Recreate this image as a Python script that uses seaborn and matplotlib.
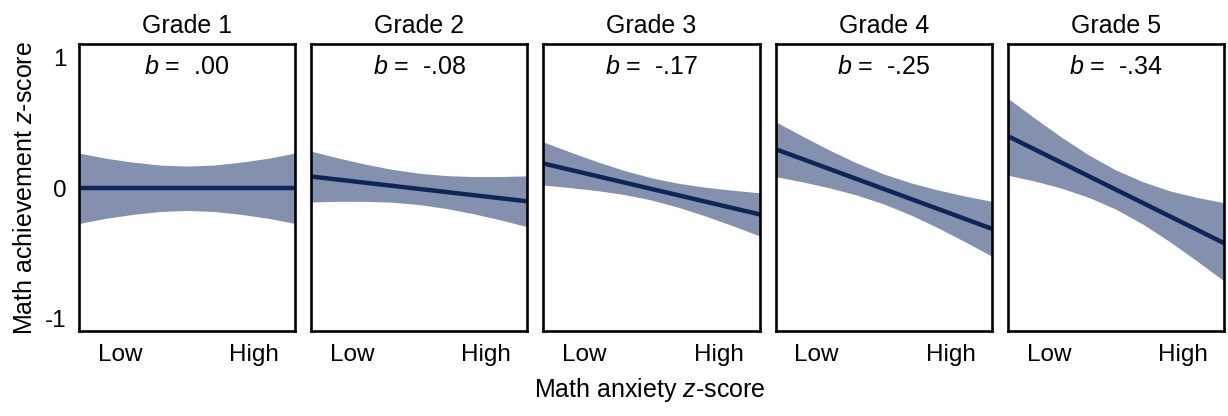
import numpy as np
import pandas as pd
import matplotlib
matplotlib.use("Agg")
import matplotlib.pyplot as plt
import seaborn as sns

# data (x = math anxiety, -1 = low, 1 = high)
grades = ["Grade 1", "Grade 2", "Grade 3", "Grade 4", "Grade 5"]
slopes = [".00", "-.08", "-.17", "-.25", "-.34"]

line_x = [-1, 1]
line_y = {
    "Grade 1": [0.00, 0.00],
    "Grade 2": [0.09, -0.10],
    "Grade 3": [0.19, -0.20],
    "Grade 4": [0.30, -0.31],
    "Grade 5": [0.40, -0.42],
}

band_x = [-1, -0.75, -0.5, -0.25, 0, 0.25, 0.5, 0.75, 1]
band_hi = {
    "Grade 1": [0.27, 0.23, 0.20, 0.178, 0.17, 0.178, 0.20, 0.23, 0.27],
    "Grade 2": [0.285, 0.232, 0.185, 0.145, 0.115, 0.097, 0.09, 0.09, 0.095],
    "Grade 3": [0.355, 0.277, 0.203, 0.136, 0.08, 0.038, 0.008, -0.015, -0.035],
    "Grade 4": [0.51, 0.399, 0.292, 0.194, 0.11, 0.042, -0.013, -0.059, -0.10],
    "Grade 5": [0.69, 0.537, 0.39, 0.255, 0.14, 0.05, -0.02, -0.07, -0.11],
}
band_lo = {
    "Grade 1": [-0.27, -0.23, -0.20, -0.178, -0.17, -0.178, -0.20, -0.23, -0.27],
    "Grade 2": [-0.105, -0.10, -0.10, -0.107, -0.125, -0.155, -0.195, -0.242, -0.295],
    "Grade 3": [0.025, 0.005, -0.018, -0.048, -0.09, -0.146, -0.213, -0.287, -0.365],
    "Grade 4": [0.09, 0.049, 0.003, -0.052, -0.12, -0.204, -0.302, -0.409, -0.52],
    "Grade 5": [0.10, 0.055, 0.0, -0.07, -0.16, -0.275, -0.41, -0.557, -0.71],
}

x_ticks = [-0.62, 0.62]
x_ticklabels = ["Low", "High"]
y_ticks = [-1, 0, 1]
y_ticklabels = ["-1", "0", "1"]

sns.set_style("white")
plt.rcParams["font.family"] = ["Liberation Sans", "DejaVu Sans"]
plt.rcParams["mathtext.fontset"] = "custom"
plt.rcParams["mathtext.rm"] = "Liberation Sans"
plt.rcParams["mathtext.it"] = "Liberation Sans:italic"
plt.rcParams["text.color"] = "black"
plt.rcParams["axes.labelcolor"] = "black"
plt.rcParams["xtick.color"] = "black"
plt.rcParams["ytick.color"] = "black"

line_color = "#0f2557"
band_color = "#8491ae"

rows = []
for g in grades:
    for xv, yv in zip(line_x, line_y[g]):
        rows.append({"grade": g, "anxiety": xv, "achievement": yv})
df = pd.DataFrame(rows)

fig, axes = plt.subplots(1, 5, figsize=(12.28, 4.16), dpi=100, sharey=True)
fig.subplots_adjust(left=0.0643, right=0.9967, top=0.894, bottom=0.204, wspace=0.074)

for i, (ax, g) in enumerate(zip(axes, grades)):
    ax.fill_between(band_x, band_lo[g], band_hi[g], color=band_color, linewidth=0)
    sns.lineplot(data=df[df["grade"] == g], x="anxiety", y="achievement",
                 color=line_color, linewidth=3.2, ax=ax)
    ax.set_xlim(-1, 1)
    ax.set_ylim(-1.095, 1.105)
    ax.set_xticks(x_ticks)
    ax.set_xticklabels(x_ticklabels)
    ax.set_yticks(y_ticks)
    ax.set_yticklabels(y_ticklabels)
    ax.tick_params(axis="both", length=0, labelsize=17.5, pad=9)
    ax.set_xlabel("")
    ax.set_ylabel("")
    ax.set_title(g, fontsize=18, pad=8)
    ax.text(0.5, 0.92, "$b$ =  " + slopes[i], transform=ax.transAxes,
            ha="center", va="center", fontsize=18)
    for s in ax.spines.values():
        s.set_visible(True)
        s.set_color("black")
        s.set_linewidth(1.9)

axes[0].set_ylabel("Math achievement $z$-score", fontsize=18, labelpad=6)
fig.text(650 / 1228, 1 - 390 / 416, "Math anxiety $z$-score",
         ha="center", va="center", fontsize=18)

plt.savefig("out.png", dpi=100)
